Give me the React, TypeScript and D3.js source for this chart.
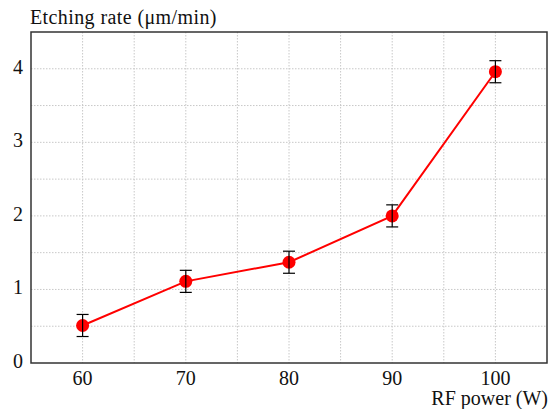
import React, { useEffect, useRef } from "react";
import * as d3 from "d3";

// data
const power = [60, 70, 80, 90, 100];
const rate = [0.51, 1.11, 1.37, 2.0, 3.96];
const rateErr = [0.15, 0.15, 0.15, 0.15, 0.15];
const xTicks = [60, 70, 80, 90, 100];
const yTicks = [0, 1, 2, 3, 4];

const W = 550;
const H = 409;
const font = "Liberation Serif";

const App = () => {
  const ref = useRef<SVGSVGElement>(null);

  useEffect(() => {
    const svg = d3.select(ref.current);
    svg.selectAll("*").remove();

    const left = 31, right = 547, top = 32, bottom = 363;
    const x = d3.scaleLinear().domain([55, 105]).range([left, right]);
    const y = d3.scaleLinear().domain([0, 4.5]).range([bottom, top]);

    // grid
    const grid = svg.append("g");
    d3.range(60, 105, 5).forEach((v) => {
      grid.append("line")
        .attr("x1", x(v)).attr("x2", x(v))
        .attr("y1", top).attr("y2", bottom)
        .attr("stroke", "#c8c8c8")
        .attr("stroke-width", 1)
        .style("stroke-dasharray", "1.5,1.5");
    });
    d3.range(0.5, 4.5, 0.5).forEach((v) => {
      grid.append("line")
        .attr("x1", left).attr("x2", right)
        .attr("y1", y(v)).attr("y2", y(v))
        .attr("stroke", "#c8c8c8")
        .attr("stroke-width", 1)
        .style("stroke-dasharray", "1.5,1.5");
    });

    // frame
    svg.append("rect")
      .attr("x", left).attr("y", top)
      .attr("width", right - left).attr("height", bottom - top)
      .attr("fill", "none")
      .attr("stroke", "#333")
      .attr("stroke-width", 1.5);

    // tick labels
    const labels = svg.append("g")
      .style("font-family", font)
      .style("font-size", "20px")
      .attr("fill", "#111");
    xTicks.forEach((t) => {
      labels.append("text")
        .attr("x", x(t)).attr("y", 385)
        .attr("text-anchor", "middle")
        .text(t);
    });
    yTicks.forEach((t) => {
      labels.append("text")
        .attr("x", 23).attr("y", y(t) + 5)
        .attr("text-anchor", "end")
        .text(t);
    });

    // axis titles
    svg.append("text")
      .attr("x", 30).attr("y", 24)
      .style("font-family", font).style("font-size", "20px")
      .style("letter-spacing", "0.4px")
      .attr("fill", "#111")
      .text("Etching rate (μm/min)");
    svg.append("text")
      .attr("x", 548).attr("y", 405)
      .attr("text-anchor", "end")
      .style("font-family", font).style("font-size", "20px")
      .attr("fill", "#111")
      .text("RF power (W)");

    // line
    const pts = power.map((p, i) => [x(p), y(rate[i])] as [number, number]);
    svg.append("path")
      .attr("d", d3.line()(pts))
      .attr("fill", "none")
      .attr("stroke", "#ff0000")
      .attr("stroke-width", 2);

    // markers
    power.forEach((p, i) => {
      svg.append("circle")
        .attr("cx", x(p)).attr("cy", y(rate[i]))
        .attr("r", 6.5)
        .attr("fill", "#ff0000");
    });

    // error bars
    const err = svg.append("g").attr("stroke", "#000").attr("stroke-width", 1.2);
    power.forEach((p, i) => {
      const cx = x(p);
      const y1 = y(rate[i] + rateErr[i]);
      const y2 = y(rate[i] - rateErr[i]);
      err.append("line").attr("x1", cx).attr("x2", cx).attr("y1", y1).attr("y2", y2);
      err.append("line").attr("x1", cx - 6).attr("x2", cx + 6).attr("y1", y1).attr("y2", y1);
      err.append("line").attr("x1", cx - 6).attr("x2", cx + 6).attr("y1", y2).attr("y2", y2);
    });
  }, []);

  return (
    <svg
      ref={ref}
      width={W}
      height={H}
      style={{ position: "absolute", left: 0, top: 0, background: "#fff" }}
    />
  );
};

export default App;
